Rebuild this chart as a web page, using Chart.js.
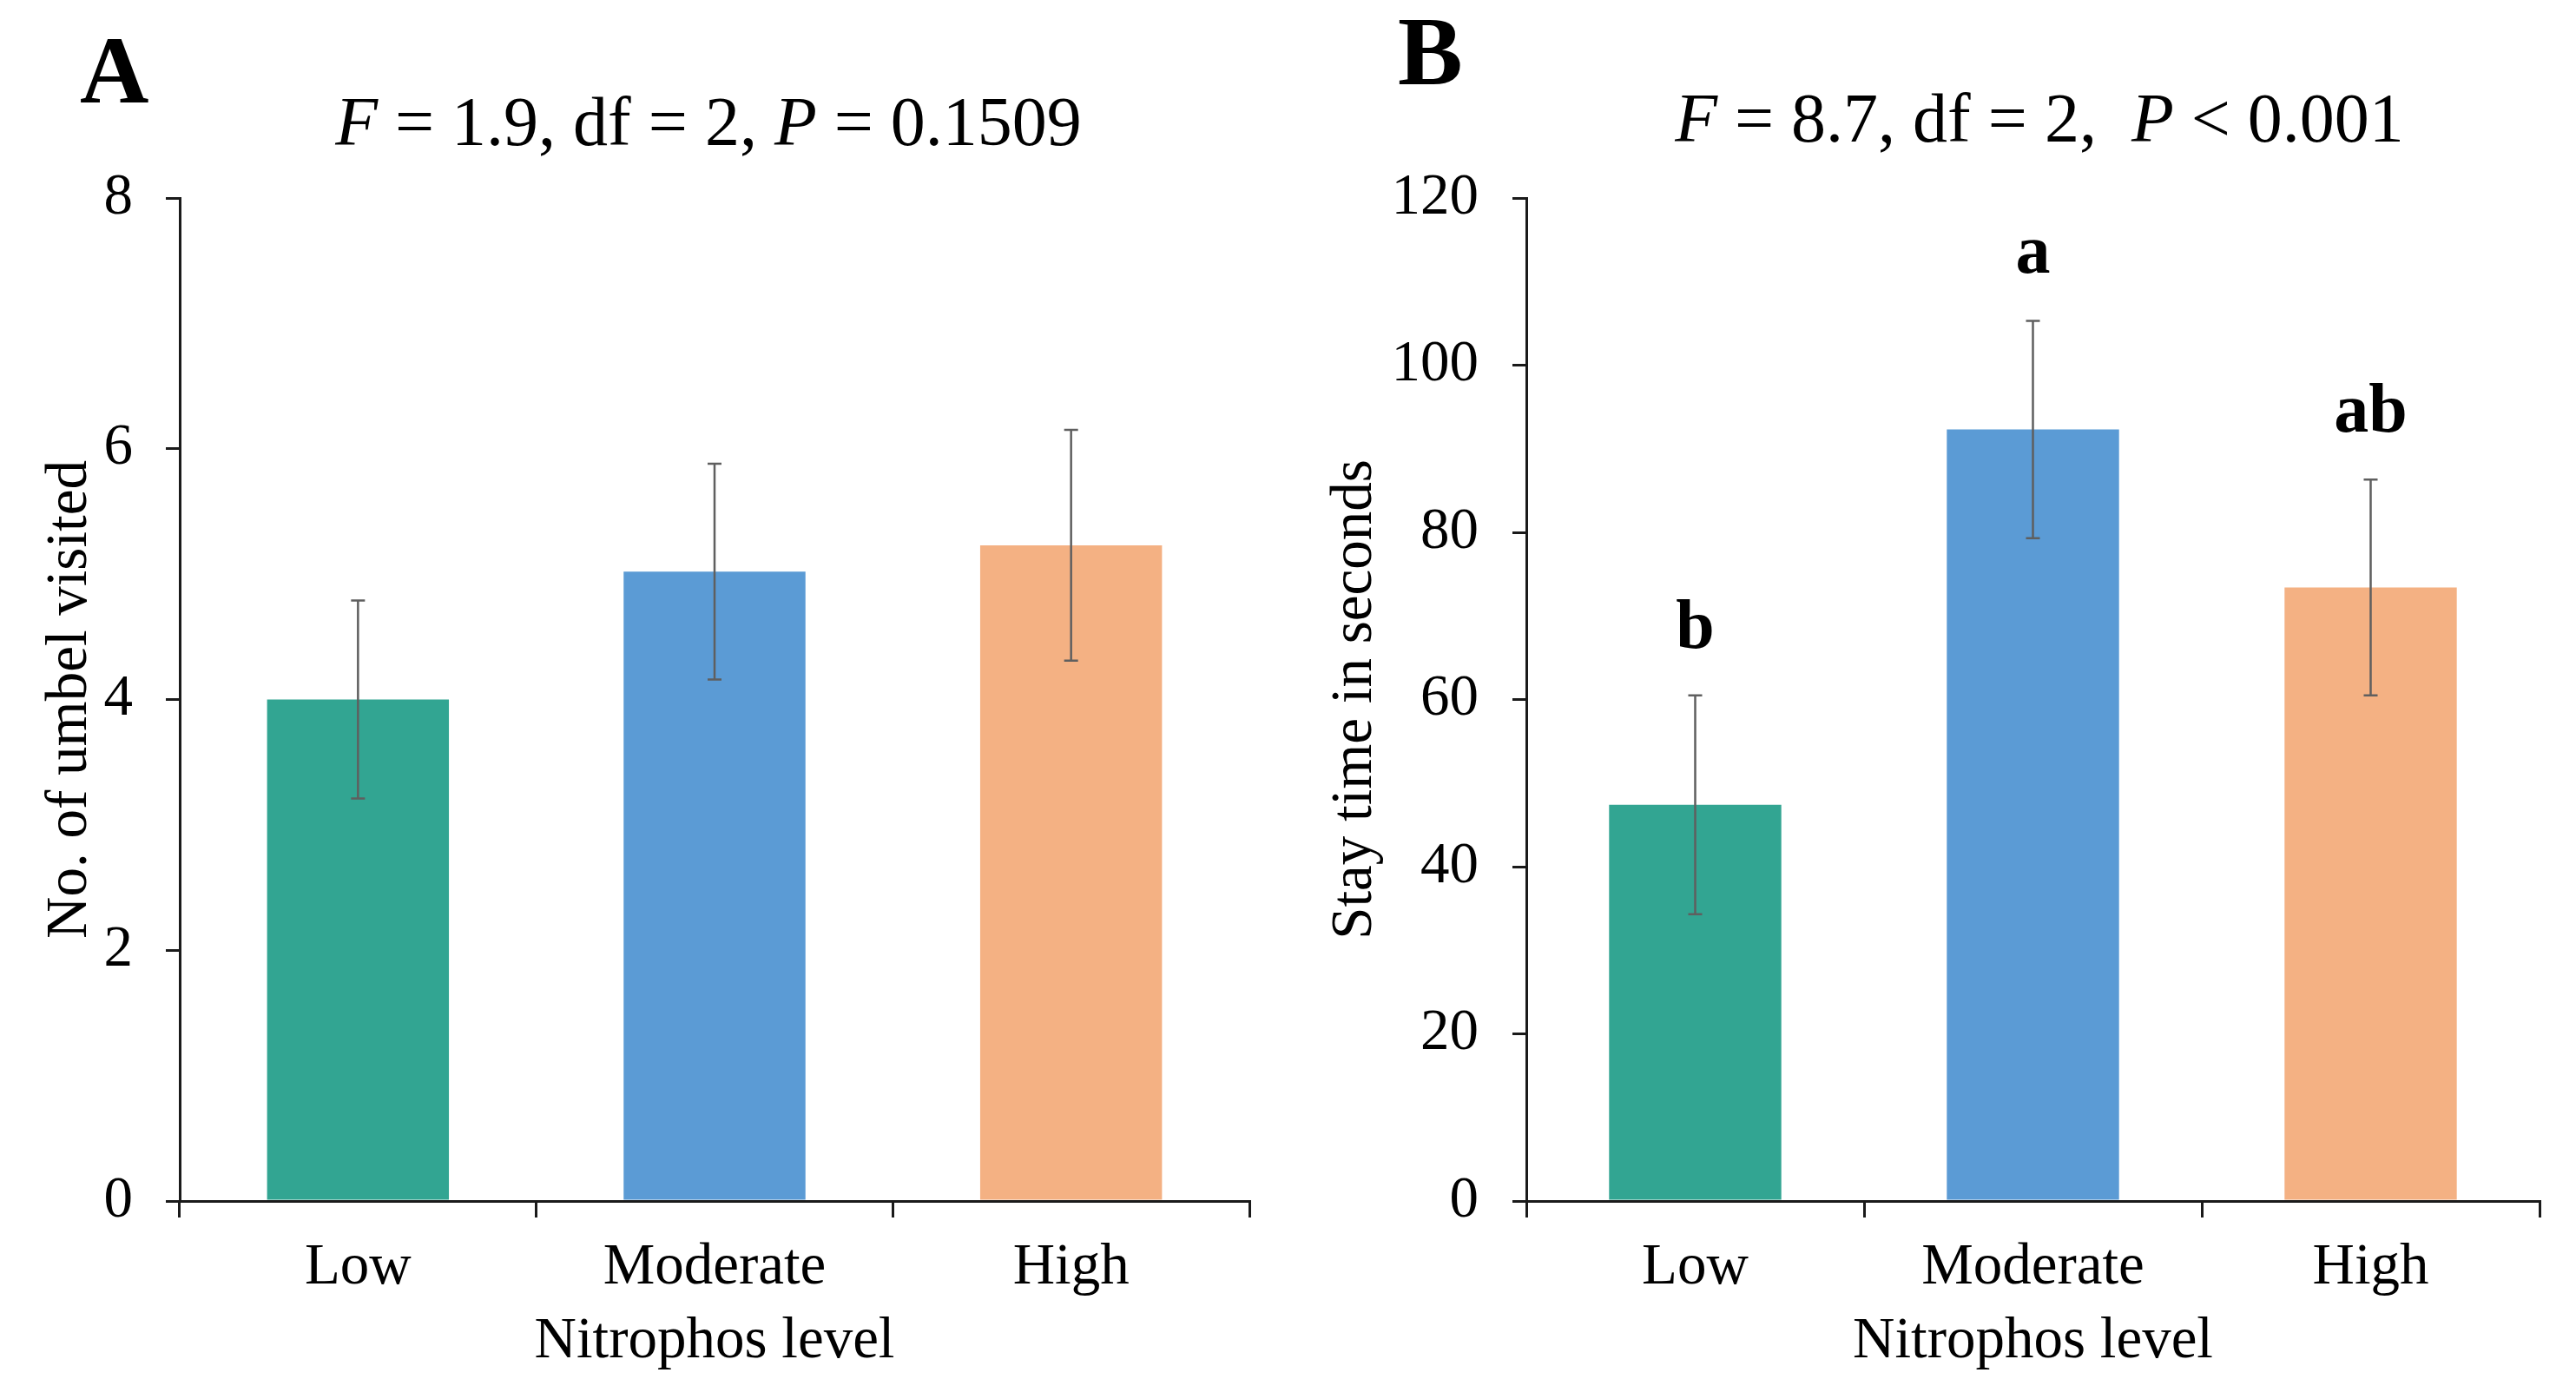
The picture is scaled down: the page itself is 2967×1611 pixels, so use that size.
<!DOCTYPE html>
<html>
<head>
<meta charset="utf-8">
<title>Nitrophos level</title>
<script src="https://cdn.jsdelivr.net/npm/chart.js@4.4.1/dist/chart.umd.min.js"></script>
<style>
  html, body { margin: 0; padding: 0; background: #fff; }
  body { width: 2967px; height: 1611px; position: relative; overflow: hidden; }
  .panel { position: absolute; top: 0; height: 1611px; }
  #panelA { left: 0; width: 1483px; }
  #panelB { left: 1483px; width: 1484px; }
</style>
</head>
<body>
<div class="panel" id="panelA"><canvas id="graficoA"></canvas></div>
<div class="panel" id="panelB"><canvas id="graficoB"></canvas></div>
<script>
const niveles = ["Low", "Moderate", "High"];
const colores = ["#32a592", "#5b9bd5", "#f4b183"];

const umbelMedias = [4.0, 5.02, 5.23];
const umbelErrores = [0.79, 0.86, 0.92];
const umbelTicks = [0, 2, 4, 6, 8];
const umbelTitulo = [["F", true], [" = 1.9, df = 2, ", false], ["P", true], [" = 0.1509", false]];

const estanciaMedias = [47.4, 92.3, 73.4];
const estanciaErrores = [13.1, 13.0, 12.9];
const estanciaTicks = [0, 20, 40, 60, 80, 100, 120];
const estanciaLetras = ["b", "a", "ab"];
const estanciaTitulo = [["F", true], [" = 8.7, df = 2,  ", false], ["P", true], [" < 0.001", false]];

const fuente = "'Liberation Serif', 'Times New Roman', serif";
Chart.defaults.font.family = fuente;
Chart.defaults.color = "#000";

// error bars, significance letters, panel letter and title
const textosPanel = {
  id: "textosPanel",
  afterDatasetsDraw(chart, args, o) {
    const ctx = chart.ctx;
    const yScale = chart.scales.y;
    const meta = chart.getDatasetMeta(0);
    ctx.save();
    ctx.strokeStyle = "#5f5f5f";
    ctx.lineWidth = 2.5;
    meta.data.forEach((bar, i) => {
      const m = o.medias[i], e = o.errores[i];
      const yTop = yScale.getPixelForValue(m + e);
      const yBot = yScale.getPixelForValue(m - e);
      ctx.beginPath();
      ctx.moveTo(bar.x, yTop); ctx.lineTo(bar.x, yBot);
      ctx.moveTo(bar.x - 8, yTop); ctx.lineTo(bar.x + 8, yTop);
      ctx.moveTo(bar.x - 8, yBot); ctx.lineTo(bar.x + 8, yBot);
      ctx.stroke();
      if (o.letras) {
        ctx.fillStyle = "#000";
        ctx.font = `bold 80px ${fuente}`;
        ctx.textAlign = "center";
        ctx.textBaseline = "alphabetic";
        ctx.fillText(o.letras[i], bar.x, yTop - 55);
      }
    });
    ctx.restore();
  },
  afterDraw(chart, args, o) {
    const ctx = chart.ctx;
    ctx.save();
    ctx.fillStyle = "#000";
    ctx.textBaseline = "alphabetic";
    ctx.textAlign = "left";
    ctx.font = `bold ${o.letraSize}px ${fuente}`;
    ctx.fillText(o.letra, o.letraX, o.letraY);
    const f = (s) => `${s[1] ? "italic " : ""}80px ${fuente}`;
    let total = 0;
    o.titulo.forEach((s) => { ctx.font = f(s); total += ctx.measureText(s[0]).width; });
    let x = o.tituloX - total / 2;
    o.titulo.forEach((s) => {
      ctx.font = f(s);
      ctx.fillText(s[0], x, o.tituloY);
      x += ctx.measureText(s[0]).width;
    });
    ctx.restore();
  }
};

function crearGrafico(canvasId, cfg) {
  const config = {
    type: "bar",
    data: {
      labels: niveles,
      datasets: [{
        data: cfg.medias,
        backgroundColor: colores,
        borderWidth: 0,
        barPercentage: 0.51,
        categoryPercentage: 1.0
      }]
    },
    options: {
      responsive: true,
      maintainAspectRatio: false,
      animation: false,
      layout: { padding: { left: 0, right: cfg.derecha, top: 228, bottom: 0 } },
      plugins: {
        legend: { display: false },
        tooltip: { enabled: false },
        textosPanel: {
          medias: cfg.medias,
          errores: cfg.errores,
          letras: cfg.letras,
          titulo: cfg.titulo,
          tituloX: cfg.tituloX,
          tituloY: cfg.tituloY,
          letra: cfg.letra,
          letraX: cfg.letraX,
          letraY: cfg.letraY,
          letraSize: cfg.letraSize
        }
      },
      scales: {
        x: {
          afterFit: (scale) => { scale.height = 228; },
          grid: { offset: true, drawOnChartArea: false, drawTicks: true, tickLength: 19, color: "#1a1a1a", lineWidth: 3 },
          border: { display: true, color: "#1a1a1a", width: 3 },
          ticks: { font: { size: 67 }, padding: 18, color: "#000" },
          title: { display: true, text: "Nitrophos level", font: { size: 67 }, padding: { top: 0, bottom: 25 }, color: "#000" }
        },
        y: {
          min: 0,
          max: cfg.ticks[cfg.ticks.length - 1],
          afterFit: (scale) => { scale.width = cfg.ancho; },
          afterBuildTicks: (scale) => { scale.ticks = cfg.ticks.map((v) => ({ value: v })); },
          grid: { drawOnChartArea: false, drawTicks: true, tickLength: 16, color: "#1a1a1a", lineWidth: 3 },
          border: { display: true, color: "#1a1a1a", width: 3 },
          ticks: { font: { size: 67 }, padding: cfg.tickPad, color: "#000" },
          title: { display: true, text: cfg.tituloEje, font: { size: 67 }, padding: { top: cfg.tituloPad, bottom: 0 }, color: "#000" }
        }
      }
    },
    plugins: [textosPanel]
  };
  return new Chart(document.getElementById(canvasId), config);
}

crearGrafico("graficoA", {
  medias: umbelMedias, errores: umbelErrores, ticks: umbelTicks, letras: null,
  titulo: umbelTitulo, tituloX: 816, tituloY: 167, letra: "A", letraX: 92, letraY: 118, letraSize: 110,
  derecha: 44, ancho: 207, tickPad: 38, tituloPad: 41, tituloEje: "No. of umbel visited"
});

crearGrafico("graficoB", {
  medias: estanciaMedias, errores: estanciaErrores, ticks: estanciaTicks, letras: estanciaLetras,
  titulo: estanciaTitulo, tituloX: 866, tituloY: 163, letra: "B", letraX: 127, letraY: 97, letraSize: 112,
  derecha: 42, ancho: 275, tickPad: 39, tituloPad: 38, tituloEje: "Stay time in seconds"
});
</script>
</body>
</html>
